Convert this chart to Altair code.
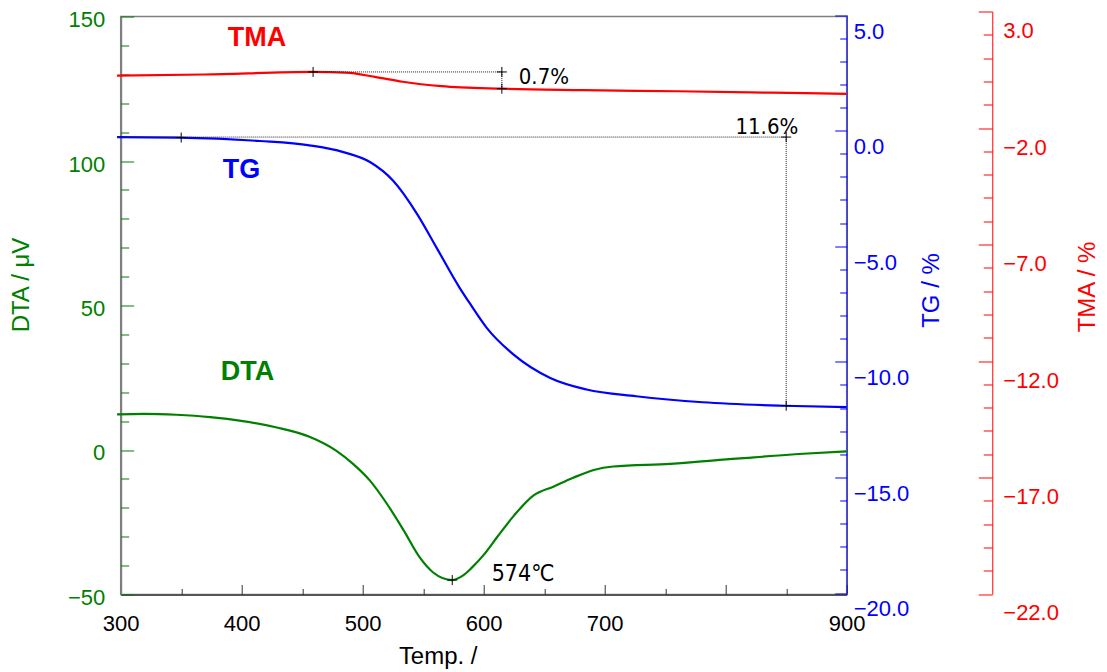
import altair as alt
import pandas as pd

# ---------------- data ----------------
dta_temp = [297, 319, 346, 374, 401, 429, 456, 478, 492, 506, 520, 534, 547, 558, 574,
            583, 590, 600, 611, 625, 641, 658, 674, 691, 707, 754, 809, 864, 900]
dta_val = [12.3, 12.5, 12.2, 11.4, 10.0, 7.8, 4.6, -0.2, -4.8, -10.6, -18.6, -27.9, -37.1, -42.3, -45.0,
           -43.4, -40.8, -36.3, -30.2, -22.7, -15.8, -12.6, -9.6, -6.9, -5.7, -4.8, -3.0, -1.3, -0.5]

tg_temp = [297, 348, 415, 456, 484, 506, 525, 545, 561, 580, 589, 602.5, 624.5, 655, 685, 726, 781, 848, 900]
tg_val = [-0.28, -0.30, -0.45, -0.64, -0.93, -1.36, -2.16, -3.61, -5.06, -6.79, -7.51, -8.53, -9.68,
          -10.70, -11.20, -11.49, -11.75, -11.90, -11.96]

tma_temp = [297, 369, 459, 486, 510, 533, 565, 615, 682, 760, 838, 900]
tma_val = [0.25, 0.30, 0.41, 0.38, 0.20, -0.01, -0.20, -0.31, -0.37, -0.42, -0.48, -0.53]

# axis tick values / labels
x_labels = [300, 400, 500, 600, 700, 900]
x_major = [300, 400, 500, 600, 700, 800, 900]
x_minor = [350, 450, 550, 650, 750, 850]
dta_labels = [-50, 0, 50, 100, 150]
dta_minor = [v for v in range(-50, 151, 10) if v % 50 != 0]
tg_labels = [-20, -15, -10, -5, 0, 5]
tg_minor = [v for v in range(-20, 6) if v % 5 != 0]
tma_labels = [-22, -17, -12, -7, -2, 3]
tma_minor = [v for v in range(-22, 4) if (v + 22) % 5 != 0]

# annotations
tg_ann_x = [300, 850]
tg_ann_x2 = [850, 850]
tg_ann_y = [-0.28, -0.28]
tg_ann_y2 = [-0.28, -11.90]
tg_cross_x = [350, 850, 850]
tg_cross_y = [-0.30, -0.28, -11.90]
tg_text = ["11.6%"]
tg_text_x = [860]
tg_text_y = [0.14]

tma_ann_x = [459, 615]
tma_ann_x2 = [615, 615]
tma_ann_y = [0.41, 0.41]
tma_ann_y2 = [0.41, -0.31]
tma_cross_x = [459, 615, 615]
tma_cross_y = [0.41, 0.41, -0.31]
tma_text = ["0.7%"]
tma_text_x = [629]
tma_text_y = [0.19]

dta_cross_x = [574]
dta_cross_y = [-45.0]
dta_text = ["574℃"]
dta_text_x = [606.6]
dta_text_y = [-42.8]

series_names = ["TMA", "TG", "DTA"]
series_x = [412.6, 399.8, 404.8]
series_y = [142.7, 96.8, 26.9]

# ---------------- styling ----------------
W, H = 726, 578
GREEN, BLUE, RED = "#008000", "#0000ff", "#ff0000"
FONT = "Liberation Sans"
NARROW = "Liberation Sans Narrow, DejaVu Sans Condensed, Liberation Sans"
TMA_OFF = 145.6
CROSS = "M-1,0L1,0M0,-1L0,1"

xsc = alt.Scale(domain=[300, 900], nice=False, zero=False)
dta_sc = alt.Scale(domain=[-50, 150], nice=False, zero=False)
tg_sc = alt.Scale(domain=[-20, 5], range=[576.5, -1.5], nice=False, zero=False)
tma_sc = alt.Scale(domain=[-22, 3], range=[577.5, -4.9], nice=False, zero=False)

dta_df = pd.DataFrame({"T": dta_temp, "v": dta_val})
tg_df = pd.DataFrame({"T": tg_temp, "v": tg_val})
tma_df = pd.DataFrame({"T": tma_temp, "v": tma_val})


def tick_axis(orient, offset, values, size, color):
    return alt.Axis(orient=orient, offset=offset, values=values, ticks=True, tickSize=size,
                    tickColor=color, tickWidth=1, labels=False, domain=False, grid=False, title="")


def x_enc(field="T", axis=None):
    if axis is None:
        return alt.X(field, type="quantitative", scale=xsc, axis=None)
    return alt.X(field, type="quantitative", scale=xsc, axis=axis)


def ghost(df, ysc, yaxis, xaxis=None):
    return alt.Chart(df).mark_line(opacity=0).encode(
        x=x_enc("T", xaxis),
        y=alt.Y("v", type="quantitative", scale=ysc, axis=yaxis))


# x label axis
x_axis = alt.Axis(orient="bottom", values=x_labels, format="d", ticks=False, tickSize=0,
                  domain=True, domainColor="#555555", domainWidth=2, grid=False,
                  labelColor="black", labelFont=FONT, labelFontSize=22, labelPadding=19,
                  labelFlush=False, labelOverlap=False,
                  title="Temp. /", titleColor="black", titleFont=FONT, titleFontSize=24,
                  titleFontWeight="normal", titleX=317, titleY=62, titleAlign="center",
                  titleBaseline="middle")

dta_axis = alt.Axis(orient="left", values=dta_labels, format="d", ticks=False, tickSize=0,
                    domain=True, domainColor="#7f7f7f", domainWidth=2, grid=False,
                    labelColor=GREEN, labelFont=FONT, labelFontSize=22, labelPadding=16,
                    labelOffset=3, labelFlush=False, labelOverlap=False,
                    title="DTA / μV", titleColor=GREEN, titleFont=FONT, titleFontSize=24,
                    titleFontWeight="normal", titleAngle=-90, titleX=-98.7, titleY=268,
                    titleAlign="center", titleBaseline="middle")

tg_axis = alt.Axis(orient="right", values=tg_labels, format=".1f", ticks=False, tickSize=0,
                   domain=True, domainColor=BLUE, domainWidth=1, grid=False,
                   labelColor=BLUE, labelFont=FONT, labelFontSize=22, labelPadding=6.5,
                   labelOffset=16, labelFlush=False, labelOverlap=False,
                   title="TG / %", titleColor=BLUE, titleFont=FONT, titleFontSize=24,
                   titleFontWeight="normal", titleAngle=-90, titleX=85, titleY=273.5,
                   titleAlign="center", titleBaseline="middle")

tma_axis = alt.Axis(orient="right", offset=TMA_OFF, values=tma_labels, format=".1f", ticks=False,
                    tickSize=0, domain=True, domainColor=RED, domainWidth=1, grid=False,
                    labelColor=RED, labelFont=FONT, labelFontSize=22, labelPadding=10.5,
                    labelOffset=19, labelFlush=False, labelOverlap=False,
                    title="TMA / %", titleColor=RED, titleFont=FONT, titleFontSize=24,
                    titleFontWeight="normal", titleAngle=-90, titleX=95, titleY=270,
                    titleAlign="center", titleBaseline="middle")

layers = []

# DTA line with left axis and bottom axis
layers.append(alt.Chart(dta_df).mark_line(color=GREEN, strokeWidth=2.2, interpolate="monotone").encode(
    x=x_enc("T", x_axis), y=alt.Y("v", type="quantitative", scale=dta_sc, axis=dta_axis)))
# inward ticks
layers.append(ghost(dta_df, dta_sc, tick_axis("right", -W, dta_minor, 8, GREEN),
                    tick_axis("top", -H, x_minor, 6, "#333333")))
layers.append(ghost(dta_df, dta_sc, tick_axis("right", -W, dta_labels, 13, GREEN),
                    tick_axis("top", -H, x_major, 10, "#333333")))

# TG
layers.append(alt.Chart(tg_df).mark_line(color=BLUE, strokeWidth=2.2, interpolate="monotone").encode(
    x=x_enc(), y=alt.Y("v", type="quantitative", scale=tg_sc, axis=tg_axis)))
layers.append(ghost(tg_df, tg_sc, tick_axis("left", -W, tg_minor, 7, BLUE)))
layers.append(ghost(tg_df, tg_sc, tick_axis("left", -W, tg_labels, 12, BLUE)))

# TMA
layers.append(alt.Chart(tma_df).mark_line(color=RED, strokeWidth=2.2, interpolate="monotone").encode(
    x=x_enc(), y=alt.Y("v", type="quantitative", scale=tma_sc, axis=tma_axis)))
layers.append(ghost(tma_df, tma_sc, tick_axis("left", -(W + TMA_OFF), tma_minor, 9, RED)))
layers.append(ghost(tma_df, tma_sc, tick_axis("left", -(W + TMA_OFF), tma_labels, 14, RED)))


def ann_layers(sc, ax, ax2, ay, ay2, cx, cy, txt, tx, ty, align):
    seg = pd.DataFrame({"x": ax, "x2": ax2, "y": ay, "y2": ay2})
    crs = pd.DataFrame({"x": cx, "y": cy})
    tdf = pd.DataFrame({"x": tx, "y": ty, "t": txt})
    out = [
        alt.Chart(seg).mark_rule(color="#222222", strokeWidth=1, strokeDash=[1, 1]).encode(
            x=x_enc("x"), x2="x2",
            y=alt.Y("y", type="quantitative", scale=sc, axis=None), y2="y2"),
        alt.Chart(crs).mark_point(shape=CROSS, size=100, color="black", strokeWidth=1,
                                  filled=False, opacity=1).encode(
            x=x_enc("x"), y=alt.Y("y", type="quantitative", scale=sc, axis=None)),
        alt.Chart(tdf).mark_text(font=NARROW, fontSize=22, color="black", align=align,
                                 baseline="middle").encode(
            x=x_enc("x"), y=alt.Y("y", type="quantitative", scale=sc, axis=None), text="t"),
    ]
    return out


layers += ann_layers(tg_sc, tg_ann_x, tg_ann_x2, tg_ann_y, tg_ann_y2, tg_cross_x, tg_cross_y,
                     tg_text, tg_text_x, tg_text_y, "right")
layers += ann_layers(tma_sc, tma_ann_x, tma_ann_x2, tma_ann_y, tma_ann_y2, tma_cross_x, tma_cross_y,
                     tma_text, tma_text_x, tma_text_y, "left")

dcross = pd.DataFrame({"x": dta_cross_x, "y": dta_cross_y})
dtext = pd.DataFrame({"x": dta_text_x, "y": dta_text_y, "t": dta_text})
layers.append(alt.Chart(dcross).mark_point(shape=CROSS, size=100, color="black", strokeWidth=1,
                                           filled=False, opacity=1).encode(
    x=x_enc("x"), y=alt.Y("y", type="quantitative", scale=dta_sc, axis=None)))
layers.append(alt.Chart(dtext).mark_text(font=NARROW, fontSize=23, color="black", align="left",
                                         baseline="middle").encode(
    x=x_enc("x"), y=alt.Y("y", type="quantitative", scale=dta_sc, axis=None), text="t"))

sdf = pd.DataFrame({"x": series_x, "y": series_y, "name": series_names})
layers.append(alt.Chart(sdf).mark_text(font=FONT, fontSize=27, fontWeight="bold", align="center",
                                       baseline="middle").encode(
    x=x_enc("x"), y=alt.Y("y", type="quantitative", scale=dta_sc, axis=None), text="name",
    color=alt.Color("name", type="nominal",
                    scale=alt.Scale(domain=series_names, range=[RED, BLUE, GREEN]), legend=None)))

chart = alt.layer(*layers).resolve_scale(x="independent", y="independent").resolve_axis(
    x="independent", y="independent").properties(
    width=W, height=H,
    autosize=alt.AutoSizeParams(type="none"),
    padding={"left": 112.7, "top": 8.5, "right": 252, "bottom": 74},
).configure_view(stroke="#808080", strokeWidth=1.5)

chart.save("out.html", embed_options={"renderer": "svg", "actions": False})
